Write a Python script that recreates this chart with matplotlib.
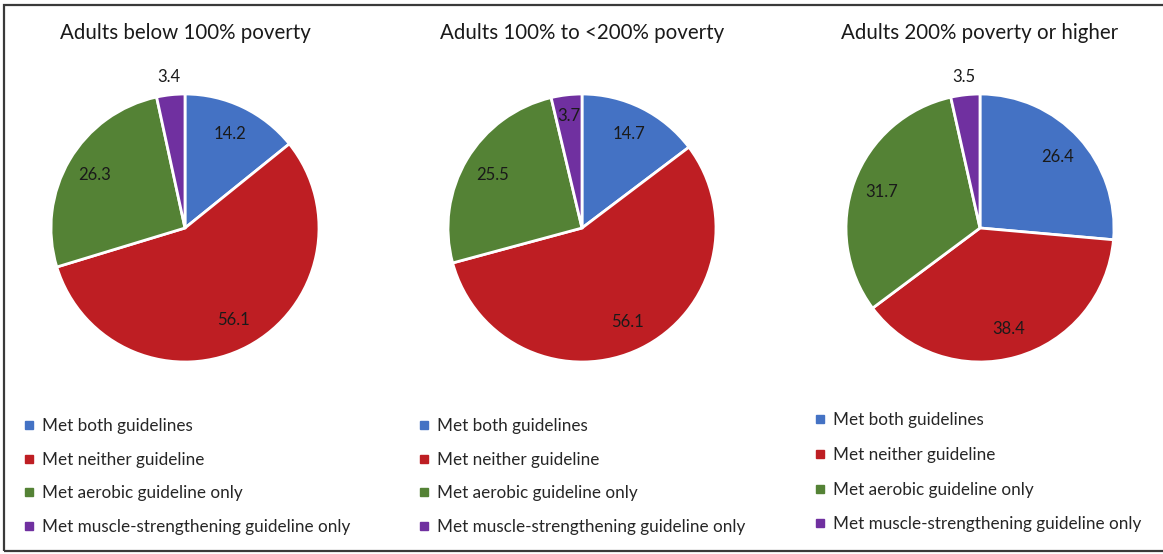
import numpy as np
import matplotlib
matplotlib.use("Agg")
from matplotlib import pyplot as plt
from matplotlib.lines import Line2D
from matplotlib.patches import Rectangle

plt.rcParams['font.family'] = ['Lato', 'DejaVu Sans']

titles = ["Adults below 100% poverty",
          "Adults 100% to <200% poverty",
          "Adults 200% poverty or higher"]
categories = ["Met both guidelines",
              "Met neither guideline",
              "Met aerobic guideline only",
              "Met muscle-strengthening guideline only"]
below_100 = [14.2, 56.1, 26.3, 3.4]
from_100_to_200 = [14.7, 56.1, 25.5, 3.7]
above_200 = [26.4, 38.4, 31.7, 3.5]
series = [below_100, from_100_to_200, above_200]

colors = ["#4472C4", "#BE1E23", "#548235", "#7030A0"]

W, H = 1163, 554
fig = plt.figure(figsize=(W / 100, H / 100), dpi=100)

# pie centres / radius in pixels
centres = [(185, 228), (582, 228), (980, 228)]
r = 134
legend_x = [24, 419, 815]
legend_y = [418, 418, 412]
legend_gap = [1.03, 1.03, 1.1]
# where the small purple label goes (fraction of radius)
small_dist = [1.13, 0.84, 1.13]

for i in range(3):
    cx, cy = centres[i]
    box = 1.3 * r
    ax = fig.add_axes([(cx - box) / W, (H - cy - box) / H, 2 * box / W, 2 * box / H])
    wedges, _ = ax.pie(series[i], colors=colors, startangle=90, counterclock=False,
                       radius=1, wedgeprops=dict(edgecolor="white", linewidth=2))
    ax.set_xlim(-1.3, 1.3)
    ax.set_ylim(-1.3, 1.3)
    ax.set_aspect("equal")
    ax.axis("off")

    for j, w in enumerate(wedges):
        ang = np.deg2rad((w.theta1 + w.theta2) / 2)
        d = 0.78 if j < 3 else small_dist[i]
        ax.text(d * np.cos(ang), d * np.sin(ang), f"{series[i][j]:.1f}",
                ha="center", va="center", fontsize=12, color="#1a1a1a")

    fig.text(cx / W, (H - 33) / H, titles[i], ha="center", va="center",
             fontsize=14.8, color="#1a1a1a")

    handles = [Line2D([], [], marker="s", linestyle="none", markersize=6,
                      markerfacecolor=c, markeredgecolor=c) for c in colors]
    ax.legend(handles, categories, loc="upper left",
              bbox_to_anchor=(legend_x[i] / W, (H - legend_y[i]) / H),
              bbox_transform=fig.transFigure, frameon=False, fontsize=12.3,
              handlelength=0.6, handletextpad=0.45, borderpad=0, borderaxespad=0,
              labelspacing=legend_gap[i], labelcolor="#262626")

# outer frame
fig.patches.append(Rectangle((4 / W, 3 / H), 1.2, (551 - 5) / H,
                             transform=fig.transFigure, fill=False,
                             edgecolor="#3a3a3a", linewidth=1.6))

fig.savefig("out.png", dpi=100)
